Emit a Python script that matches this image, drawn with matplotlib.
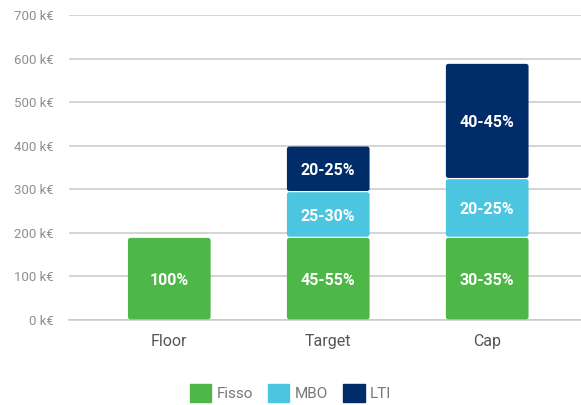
import matplotlib
matplotlib.use('Agg')
import matplotlib.pyplot as plt
from matplotlib.patches import FancyBboxPatch, Patch
from matplotlib import font_manager

# pay-mix data (k€) per scenario
categories = ['Floor', 'Target', 'Cap']
fisso = [190, 190, 190]
mbo = [0, 105, 135]
lti = [0, 105, 265]
lbl_fisso = ['100%', '45-55%', '30-35%']
lbl_mbo = ['', '25-30%', '20-25%']
lbl_lti = ['', '20-25%', '40-45%']
yticks = [0, 100, 200, 300, 400, 500, 600, 700]

names = {f.name for f in font_manager.fontManager.ttflist}
font = 'Liberation Sans Narrow' if 'Liberation Sans Narrow' in names else 'Roboto'
plt.rcParams['font.family'] = [font, 'DejaVu Sans']

C_FISSO, C_MBO, C_LTI = '#4db748', '#4cc5e0', '#002d69'

fig = plt.figure(figsize=(5.81, 4.05), dpi=100)
ax = fig.add_axes([0.119, 0.21, 0.881, 0.752])
ax.set_xlim(-0.63, 2.59)
ax.set_ylim(0, 700)

x = list(range(len(categories)))
w = 0.52
series = [(fisso, [0, 0, 0], C_FISSO, lbl_fisso),
          (mbo, fisso, C_MBO, lbl_mbo),
          (lti, [a + b for a, b in zip(fisso, mbo)], C_LTI, lbl_lti)]

# per-pixel sizes in data units, for rounded corners
px_x = (2.59 + 0.63) / (0.881 * 581)
px_y = 700 / (0.752 * 405)

for vals, bottom, col, labels in series:
    bars = ax.bar(x, vals, w, bottom=bottom, color=col)
    for b, v, lab in zip(bars, vals, labels):
        b.set_visible(False)
        if v <= 0:
            continue
        bx, by = b.get_x(), b.get_y()
        gap = 0.6 * px_y
        patch = FancyBboxPatch((bx, by + gap), b.get_width(), b.get_height() - 2 * gap,
                               boxstyle=f'round,pad=0,rounding_size={2.5 * px_x}',
                               mutation_aspect=px_y / px_x,
                               facecolor=col, edgecolor='none', zorder=3)
        ax.add_patch(patch)
        ax.text(bx + b.get_width() / 2, by + v / 2 - 4, lab, ha='center', va='center',
                color='white', fontsize=11.5, fontweight='bold', zorder=4)

ax.set_yticks(yticks)
ax.set_yticklabels([f'{t} k€' for t in yticks])
ax.set_xticks(x)
ax.set_xticklabels(categories)
ax.grid(axis='y', color='#c9c9c9', linewidth=1.1)
ax.set_axisbelow(True)
for s in ['top', 'right', 'left']:
    ax.spines[s].set_visible(False)
ax.spines['bottom'].set_color('#c9c9c9')
ax.spines['bottom'].set_linewidth(1.1)
ax.tick_params(axis='y', length=0, pad=11, labelsize=9.5, labelcolor='#8f8f8f')
ax.tick_params(axis='x', length=0, pad=10, labelsize=11.5, labelcolor='#555555')

handles = [Patch(color=C_FISSO, label='Fisso'),
           Patch(color=C_MBO, label='MBO'),
           Patch(color=C_LTI, label='LTI')]
leg = fig.legend(handles=handles, loc='center', bbox_to_anchor=(0.5, 0.03), ncol=3,
                 frameon=False, fontsize=11, handlelength=1.4, handleheight=1.4,
                 handletextpad=0.35, columnspacing=1.0)
for t in leg.get_texts():
    t.set_color('#777777')

fig.savefig('out.png', dpi=100)
